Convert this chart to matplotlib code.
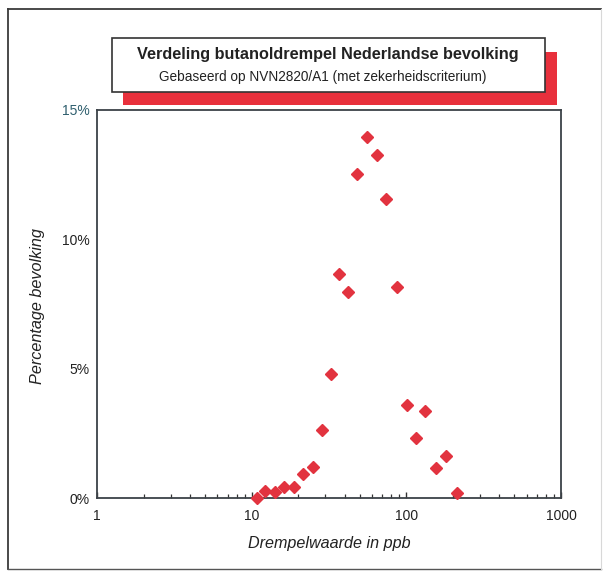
import matplotlib
matplotlib.use("Agg")
import matplotlib.pyplot as plt
from matplotlib.patches import Rectangle
from matplotlib.lines import Line2D
from matplotlib.ticker import FixedLocator, NullFormatter

plt.rcParams['font.family'] = ['Liberation Sans', 'DejaVu Sans']

# Data
drempel_ppb = [10.8, 12.2, 14.2, 16.2, 18.9, 21.6, 24.8, 28.4, 32.4, 36.8, 42.1,
               48.2, 55.9, 64.3, 73.8, 86.5, 100.5, 115.3, 132.5, 154.6, 180.3, 211.5]
percentage = [0.0, 0.27, 0.23, 0.44, 0.44, 0.93, 1.20, 2.62, 4.78, 8.66, 7.96,
              12.51, 13.94, 13.25, 11.55, 8.17, 3.58, 2.32, 3.35, 1.16, 1.62, 0.18]

x_ticks = [1, 10, 100, 1000]
x_ticklabels = ["1", "10", "100", "1000"]
y_ticks = [0, 5, 10, 15]
y_ticklabels = ["0%", "5%", "10%", "15%"]

title = "Verdeling butanoldrempel Nederlandse bevolking"
subtitle = "Gebaseerd op NVN2820/A1 (met zekerheidscriterium)"
xlabel = "Drempelwaarde in ppb"
ylabel = "Percentage bevolking"

W, H = 607, 571
fig = plt.figure(figsize=(W / 100, H / 100), dpi=100)
fig.patch.set_facecolor("white")

def fx(px):
    return px / W

def fy(py):
    return 1 - py / H

# Outer border
fig.add_artist(Line2D([fx(8), fx(8)], [fy(9), fy(569)], color="#3a3a3a", lw=1.3))
fig.add_artist(Line2D([fx(8), fx(601)], [fy(9), fy(9)], color="#3a3a3a", lw=1.3))
fig.add_artist(Line2D([fx(8), fx(601)], [fy(569), fy(569)], color="#555555", lw=1.0))
fig.add_artist(Line2D([fx(601), fx(601)], [fy(9), fy(569)], color="#d8d8d8", lw=0.8))

# Axes
ax_left, ax_right, ax_top, ax_bottom = 97, 561, 110, 498
ax = fig.add_axes([fx(ax_left), fy(ax_bottom), (ax_right - ax_left) / W, (ax_bottom - ax_top) / H])
ax.set_xscale("log")
ax.set_xlim(1, 1000)
ax.set_ylim(0, 15)

ax.plot(drempel_ppb, percentage, linestyle="none", marker="D", markersize=6,
        color="#e2333f", markeredgecolor="#e2333f", clip_on=False, zorder=5)

ax.xaxis.set_major_locator(FixedLocator(x_ticks))
ax.set_xticklabels(x_ticklabels)
minors = [m * 10 ** d for d in range(0, 3) for m in range(2, 10)]
ax.xaxis.set_minor_locator(FixedLocator(minors))
ax.xaxis.set_minor_formatter(NullFormatter())
ax.tick_params(axis="x", which="major", direction="in", length=4, width=1.0,
               color="#333333", labelsize=10, pad=8, labelcolor="#222222")
ax.tick_params(axis="x", which="minor", direction="in", length=3, width=0.9, color="#333333")

ax.set_yticks(y_ticks)
ax.set_yticklabels(y_ticklabels)
ax.tick_params(axis="y", which="both", length=0, labelsize=10, pad=5, labelcolor="#222222")
ax.get_yticklabels()[-1].set_color("#2f5f6e")

for s in ax.spines.values():
    s.set_color("#3c4248")
    s.set_linewidth(1.3)

ax.set_xlabel(xlabel, fontsize=11.6, fontstyle="italic", color="#222222", labelpad=9)
fig.text(fx(38), fy(306), ylabel, rotation=90, fontsize=11.7, fontstyle="italic",
         color="#222222", ha="center", va="center")

# Title box with red shadow
fig.add_artist(Rectangle((fx(123), fy(105)), fx(557) - fx(123), fy(52) - fy(105),
                         facecolor="#e8303c", edgecolor="none", zorder=1))
fig.add_artist(Rectangle((fx(112), fy(92)), fx(545) - fx(112), fy(38) - fy(92),
                         facecolor="white", edgecolor="#333333", lw=1.2, zorder=2))
fig.text(fx(328), fy(54), title, fontsize=11.7, fontweight="bold", color="#222222",
         ha="center", va="center", zorder=3)
fig.text(fx(323), fy(77), subtitle, fontsize=9.8, color="#222222",
         ha="center", va="center", zorder=3)

fig.savefig("out.png", dpi=100, facecolor="white")
